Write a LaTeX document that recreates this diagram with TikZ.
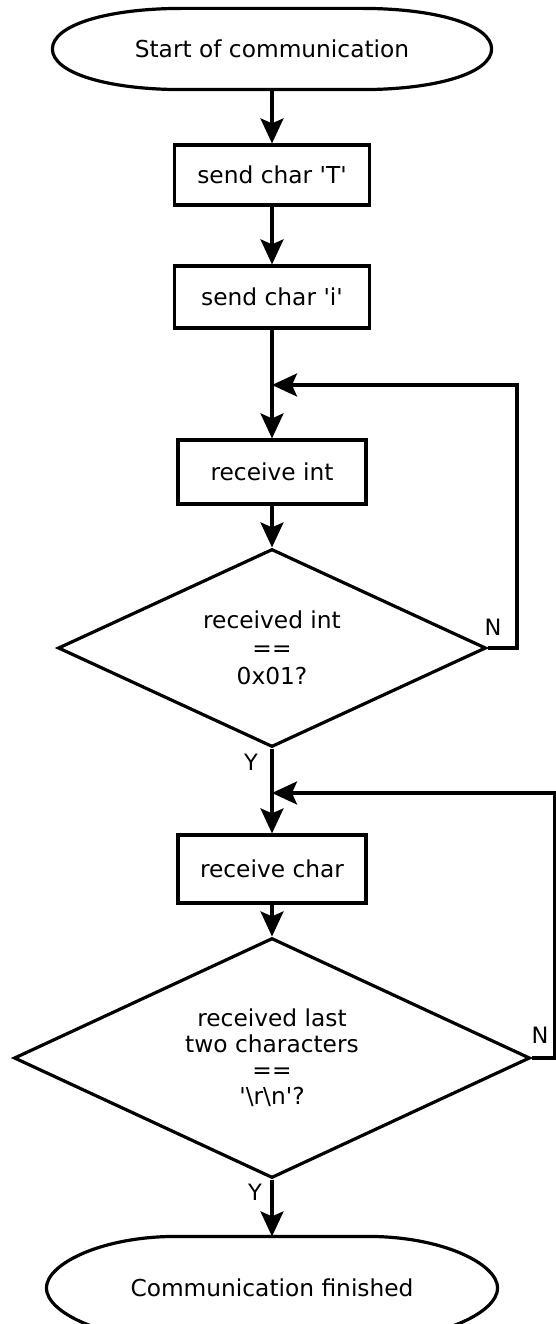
\documentclass[tikz,border=0pt]{standalone}
\usepackage{fontspec}
\setmainfont{DejaVu Sans}
\usetikzlibrary{shapes.geometric,arrows.meta}
\newcommand{\sq}{\textquotesingle}
\newcommand{\termoutline}[1]{%
  \draw ([xshift=-130pt]#1.north east)
    .. controls ([xshift=-55pt]#1.north east) and ([yshift=24pt]#1.east) .. (#1.east)
    .. controls ([yshift=-24pt]#1.east) and ([xshift=-55pt]#1.south east) .. ([xshift=-130pt]#1.south east)
    -- ([xshift=130pt]#1.south west)
    .. controls ([xshift=55pt]#1.south west) and ([yshift=-24pt]#1.west) .. (#1.west)
    .. controls ([yshift=24pt]#1.west) and ([xshift=55pt]#1.north west) .. ([xshift=130pt]#1.north west)
    -- cycle;}
\begin{document}
\begin{tikzpicture}[x=1pt,y=-1pt,
  line width=3.2pt,
  every node/.style={font=\fontsize{23.3}{28}\selectfont},
  term/.style={rectangle,inner sep=0pt},
  proc/.style={draw,rectangle,inner sep=0pt},
  dec/.style={draw,diamond,inner sep=0pt,aspect=2.15,align=center},
  flow/.style={-{Stealth[length=25pt,width=23pt,inset=5pt]}},
  lbl/.style={font=\fontsize{22.5}{24}\selectfont}]
\useasboundingbox (0,0) rectangle (556,1324);
\node[term,minimum width=436pt,minimum height=78pt] (start) at (272,49) {Start of communication};
\node[proc,minimum width=195pt,minimum height=60pt] (t) at (272,175) {send char \sq T\sq};
\node[proc,minimum width=195pt,minimum height=62pt] (i) at (272,297) {send char \sq i\sq};
\node[proc,minimum width=188pt,minimum height=64pt] (rint) at (272,472) {receive int};
\node[dec,minimum width=428pt,minimum height=198pt] (d1) at (272,648) {received int\\==\\0x01?};
\node[proc,minimum width=188pt,minimum height=68pt] (rchar) at (272,869) {receive char};
\node[dec,minimum width=516pt,minimum height=240pt,font=\fontsize{23.3}{26}\selectfont] (d2) at (272,1058) {received last\\two characters\\==\\\sq\textbackslash r\textbackslash n\sq?};
\node[term,minimum width=448pt,minimum height=100pt] (end) at (272,1288) {Communication finished};
\termoutline{start}
\termoutline{end}

\coordinate (m1) at (272,385);
\coordinate (c1) at (517,385);
\coordinate (m2) at (272,793);
\coordinate (c2) at (555,793);

\draw[flow] (start.south) -- (t.north);
\draw[flow] (t.south) -- (i.north);
\draw (i.south) -- (m1);
\draw[flow] (m1) -- (rint.north);
\draw[flow] (rint.south) -- (d1.north);
\draw[flow] (d1.east) -| (c1) -- (m1);
\draw (d1.south) -- (m2);
\draw[flow] (m2) -- (rchar.north);
\draw[flow] (rchar.south) -- (d2.north);
\draw[flow] (d2.east) -| (c2) -- (m2);
\draw[flow] (d2.south) -- (end.north);

\node[lbl] (n1) at (493,627) {N};
\node[lbl] (y1) at (251,762) {Y};
\node[lbl] (n2) at (540,1035) {N};
\node[lbl] (y2) at (255,1192) {Y};
\end{tikzpicture}
\end{document}
